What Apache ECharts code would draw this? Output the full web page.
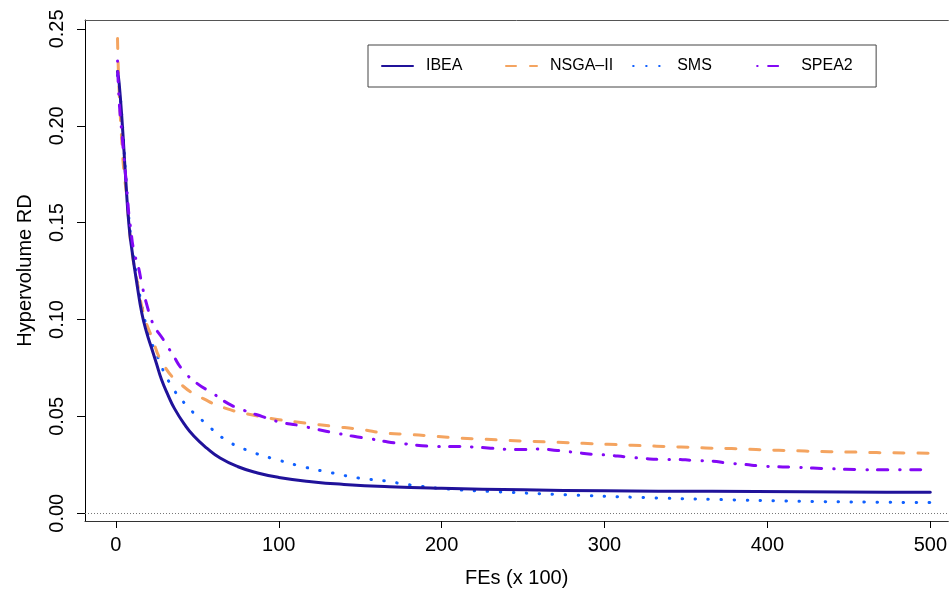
<!DOCTYPE html>
<html>
<head>
<meta charset="utf-8">
<script src="https://cdn.jsdelivr.net/npm/echarts@6/dist/echarts.min.js"></script>
<style>html,body{margin:0;padding:0;background:#fff;}#c{width:950px;height:593px;}</style>
</head>
<body>
<div id="c"></div>
<script>
var seriesNames = ['IBEA', 'NSGA\u2013II', 'SMS', 'SPEA2'];
var xTicks = [0, 100, 200, 300, 400, 500];
var yTicks = [0, 0.05, 0.10, 0.15, 0.20, 0.25];

var ibeaX = [1, 2, 4, 6, 8, 10, 13, 16, 19, 22, 25, 28, 32, 36, 42, 48, 56, 64, 75, 87, 100, 120, 140, 168, 200, 250, 300, 366, 420, 473, 500];
var ibeaY = [0.228, 0.222, 0.200, 0.173, 0.149, 0.135, 0.118, 0.103, 0.093, 0.085, 0.077, 0.069, 0.061, 0.054, 0.046, 0.0397, 0.0335, 0.0285, 0.0240, 0.0208, 0.0185, 0.0163, 0.0149, 0.0137, 0.0129, 0.0121, 0.0116, 0.0113, 0.0111, 0.0109, 0.0108];

var nsgaX = [1, 2, 4, 5, 7, 8, 10, 13, 17, 22, 29, 40, 54, 68, 84, 99, 117, 133, 150, 166, 180, 196, 211, 226, 241, 256, 271, 287, 302, 317, 332, 347, 362, 378, 393, 407, 423, 438, 452, 467, 500];
var nsgaY = [0.245, 0.218, 0.187, 0.176, 0.161, 0.149, 0.134, 0.120, 0.103, 0.091, 0.077, 0.0665, 0.059, 0.054, 0.0507, 0.0484, 0.0465, 0.0449, 0.0433, 0.0413, 0.0407, 0.0397, 0.0388, 0.0382, 0.0376, 0.0371, 0.0366, 0.0361, 0.0356, 0.0351, 0.0346, 0.0342, 0.0337, 0.0334, 0.0329, 0.0325, 0.0321, 0.0318, 0.0316, 0.0313, 0.0310];

var smsX = [1, 2, 4, 6, 8, 10, 13, 16, 20, 26, 33, 43, 55, 68, 84, 100, 116, 133, 149, 165, 180, 204, 234, 281, 328, 374, 428, 467, 500];
var smsY = [0.226, 0.221, 0.201, 0.175, 0.152, 0.138, 0.121, 0.107, 0.093, 0.080, 0.0673, 0.056, 0.0465, 0.0376, 0.0315, 0.0274, 0.0238, 0.0208, 0.0182, 0.0167, 0.0147, 0.0125, 0.0111, 0.0094, 0.0080, 0.0070, 0.0061, 0.0057, 0.0055];

var speaX = [1, 2, 4, 6, 8, 9, 11, 14, 16, 19, 23, 29, 35, 41, 50, 59, 69, 79, 90, 101, 112, 123, 135, 146, 157, 167, 178, 188, 198, 209, 219, 230, 240, 250, 260, 271, 282, 292, 302, 313, 324, 334, 344, 354, 366, 375, 386, 396, 406, 418, 428, 438, 448, 459, 470, 500];
var speaY = [0.2335, 0.213, 0.193, 0.174, 0.154, 0.1475, 0.1355, 0.1264, 0.118, 0.1076, 0.0975, 0.0898, 0.0817, 0.074, 0.0669, 0.0622, 0.0566, 0.053, 0.0499, 0.047, 0.0454, 0.0434, 0.0414, 0.0397, 0.0383, 0.0368, 0.0358, 0.0349, 0.0344, 0.0344, 0.0342, 0.0336, 0.033, 0.0329, 0.0332, 0.0324, 0.0314, 0.0305, 0.030, 0.0291, 0.0283, 0.0278, 0.0278, 0.0273, 0.0269, 0.026, 0.0252, 0.0244, 0.024, 0.0237, 0.0233, 0.023, 0.0227, 0.0225, 0.0225, 0.0224];

function pairs(xs, ys) { return xs.map(function (x, i) { return [x, ys[i]]; }); }

var font = 'Liberation Sans, Arial, Helvetica, sans-serif';
var chart = echarts.init(document.getElementById('c'), null, { renderer: 'canvas' });

function mkSeries(name, data, color, type, z) {
  return {
    name: name, type: 'line', data: data, showSymbol: false, symbol: 'none',
    smooth: 0.5, z: z, silent: true, xAxisIndex: 0, yAxisIndex: 0,
    lineStyle: { color: color, width: 3, type: type, cap: 'round', join: 'round' },
    itemStyle: { color: color }
  };
}

var s1 = mkSeries(seriesNames[0], pairs(ibeaX, ibeaY), '#20129A', 'solid', 5);
s1.markLine = {
  silent: true, symbol: 'none', label: { show: false },
  lineStyle: { color: '#777', width: 1, type: [1, 2] },
  data: [{ yAxis: 0 }]
};

var X_MIN = -18.96, X_MAX = 511.04;

var option = {
  animation: false,
  backgroundColor: '#fff',
  grid: { left: 85, top: 20, right: 0, height: 505, show: false },
  legend: {
    left: 368, top: 45,
    padding: [12, 15, 12, 13],
    borderColor: '#444', borderWidth: 1, borderRadius: 0,
    backgroundColor: '#fff',
    itemWidth: 31, itemHeight: 14, itemGap: 19,
    itemStyle: { opacity: 0, color: 'rgba(0,0,0,0)', borderWidth: 0 },
    textStyle: { fontFamily: font, fontSize: 16, color: '#000', width: 60, padding: [0, 0, 0, 8], lineHeight: 18 },
    data: seriesNames
  },
  xAxis: [{
    type: 'value', min: X_MIN, max: X_MAX, position: 'bottom',
    name: 'FEs (x 100)', nameLocation: 'middle', nameGap: 47,
    nameTextStyle: { fontFamily: font, fontSize: 20, color: '#000' },
    axisLine: { show: true, onZero: false, lineStyle: { color: '#333', width: 1 } },
    axisTick: { show: true, length: 7, customValues: xTicks, lineStyle: { color: '#000' } },
    axisLabel: { customValues: xTicks, margin: 14, fontFamily: font, fontSize: 20, color: '#000' },
    splitLine: { show: false }
  }, {
    type: 'value', min: X_MIN, max: X_MAX, position: 'top',
    axisLine: { show: true, onZero: false, lineStyle: { color: '#555', width: 1 } },
    axisTick: { show: false }, axisLabel: { show: false }, splitLine: { show: false }
  }],
  yAxis: {
    type: 'value', min: -0.0040, max: 0.2546,
    name: 'Hypervolume RD', nameLocation: 'middle', nameGap: 50, nameRotate: 90,
    nameTextStyle: { fontFamily: font, fontSize: 20, color: '#000' },
    axisLine: { show: true, onZero: false, lineStyle: { color: '#000', width: 1 } },
    axisTick: { show: true, length: 8, customValues: yTicks, lineStyle: { color: '#000' } },
    axisLabel: {
      customValues: yTicks, rotate: 90, margin: 18, fontFamily: font, fontSize: 20, color: '#000',
      formatter: function (v) { return v.toFixed(2); }
    },
    splitLine: { show: false }
  },
  series: [
    s1,
    mkSeries(seriesNames[1], pairs(nsgaX, nsgaY), '#F4A460', [10, 14], 4),
    mkSeries(seriesNames[2], pairs(smsX, smsY), '#1060FF', [0.5, 12.5], 3),
    mkSeries(seriesNames[3], pairs(speaX, speaY), '#8308F5', [0.5, 10.5, 10, 12], 6)
  ]
};
chart.setOption(option);
</script>
</body>
</html>
